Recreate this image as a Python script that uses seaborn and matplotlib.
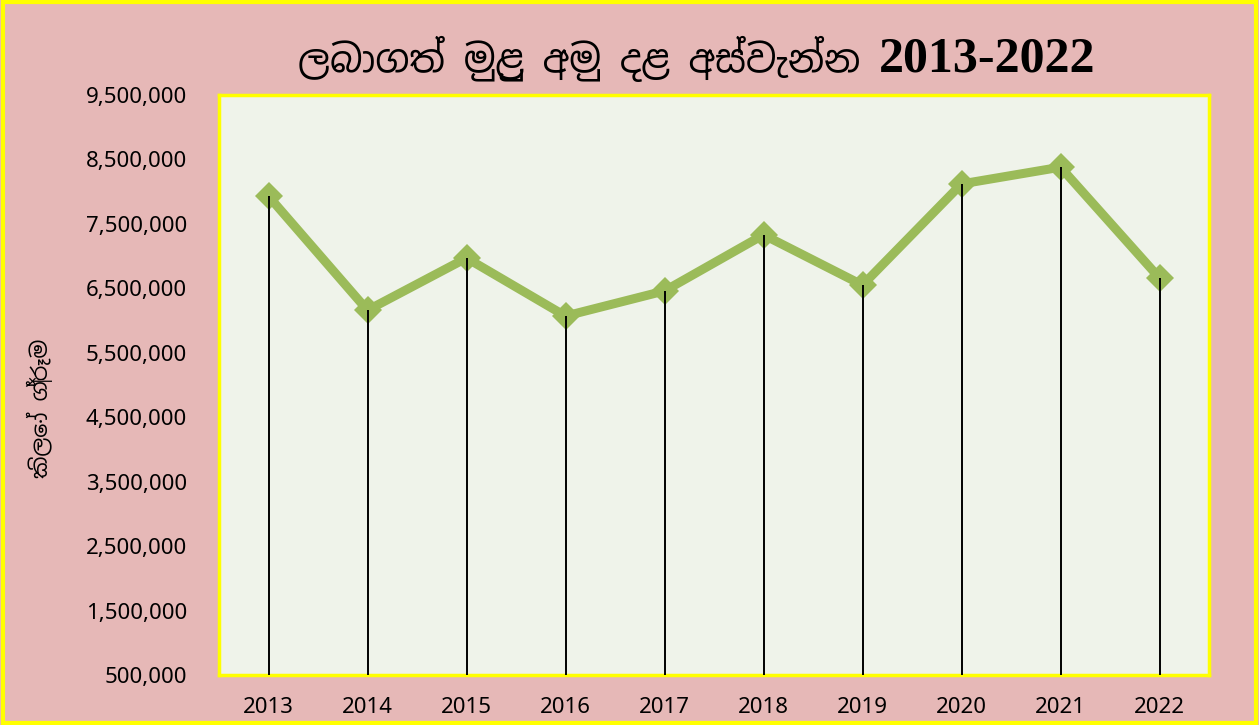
import matplotlib
matplotlib.use("Agg")
import matplotlib.pyplot as plt
import seaborn as sns
import pandas as pd
from matplotlib.patches import Rectangle
from matplotlib.ticker import FuncFormatter

years = ["2013", "2014", "2015", "2016", "2017", "2018", "2019", "2020", "2021", "2022"]
values = [7930000, 6160000, 6970000, 6070000, 6460000, 7330000, 6550000, 8120000, 8380000, 6660000]
title_si = "ලබාගත් මුළු අමු දළ අස්වැන්න"
title_years = "2013-2022"
ylabel = "කිලෝ ග්‍රෑම"

sns.set_theme(style="white")
plt.rcParams['font.family'] = ['Noto Sans', 'DejaVu Sans']
plt.rcParams['text.color'] = 'black'
plt.rcParams['xtick.color'] = 'black'
plt.rcParams['ytick.color'] = 'black'

df = pd.DataFrame({"pos": range(len(years)), "year": years, "value": values})

fig = plt.figure(figsize=(12.59, 7.25), dpi=100)
fig.patch.set_facecolor("#E6B8B7")
ax = fig.add_axes([219/1259, 50/725, 990/1259, 580/725])
ax.set_facecolor("#EFF3EA")

ymin = 500000
sns.lineplot(data=df, x="pos", y="value", ax=ax, color="#9BBB59", linewidth=6.5,
             marker="D", markersize=14, markeredgewidth=0, zorder=2)
ax.vlines(df["pos"], ymin, df["value"], colors="black", linewidth=1.4, zorder=3)

ax.set_xlim(-0.5, len(years) - 0.5)
ax.set_ylim(500000, 9500000)
ax.set_yticks(range(500000, 9500001, 1000000))
ax.yaxis.set_major_formatter(FuncFormatter(lambda v, p: f"{int(v):,}"))
ax.set_xticks(df["pos"])
ax.set_xticklabels(years)
ax.tick_params(axis="y", labelsize=16, length=0, pad=23)
ax.tick_params(axis="x", labelsize=16, length=0, pad=16)
ax.set_xlabel("")
ax.set_ylabel("")
for s in ax.spines.values():
    s.set_color("#FFFF00")
    s.set_linewidth(2.5)

fig.text(40/1259, 1 - 408/725, ylabel, rotation=90, ha="center", va="center",
         fontsize=16, fontweight="bold", family=['Noto Sans Sinhala', 'Noto Sans', 'DejaVu Sans'])

fig.text(860/1259, 1 - 72/725, title_si, ha="right", va="baseline", fontsize=27,
         fontweight="bold", family=['Noto Sans Sinhala', 'Noto Sans', 'DejaVu Sans'])
fig.text(879/1259, 1 - 72/725, title_years, ha="left", va="baseline", fontsize=36,
         fontweight="bold", family=['Liberation Serif', 'DejaVu Serif'])

fig.patches.append(Rectangle((0.002, 0.003), 0.996, 0.994, transform=fig.transFigure,
                             fill=False, edgecolor="#FFFF00", linewidth=3))

fig.savefig("out.png", dpi=100, facecolor=fig.get_facecolor())
